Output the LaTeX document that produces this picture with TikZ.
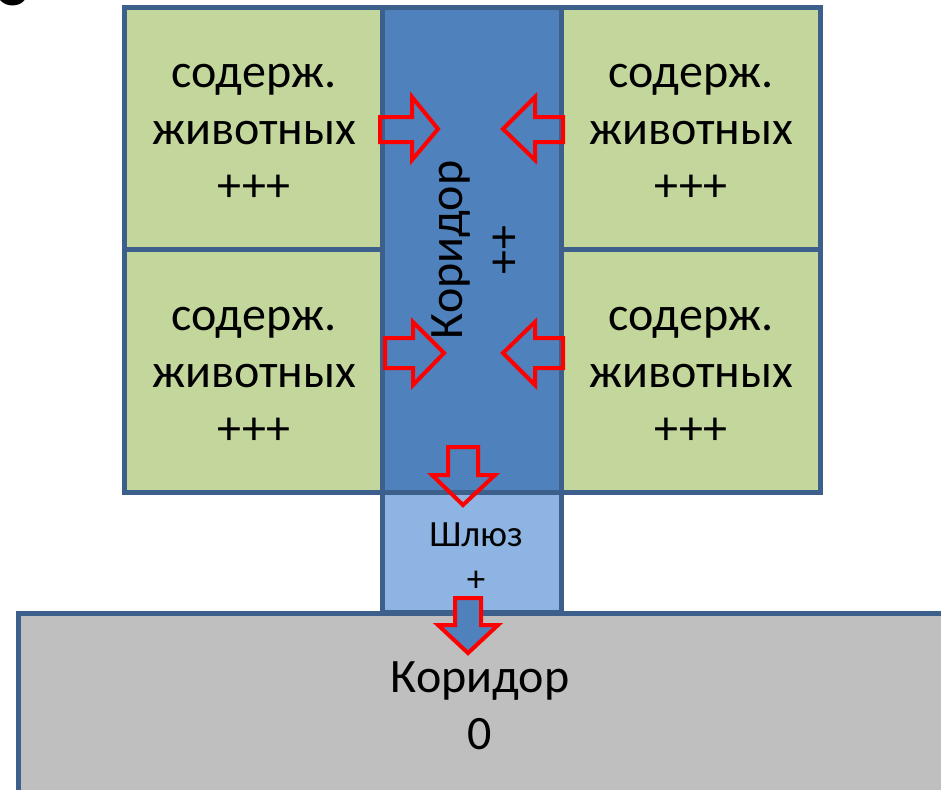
\documentclass[tikz,border=0pt]{standalone}
\usepackage{fontspec}
\setmainfont{Carlito}
\definecolor{pen}{HTML}{3D5F8C}
\definecolor{roomgreen}{HTML}{C3D69B}
\definecolor{hallblue}{HTML}{4F81BD}
\definecolor{lockblue}{HTML}{8EB4E3}
\definecolor{hallgrey}{HTML}{BFBFBF}
\definecolor{flowred}{HTML}{FF0000}
\tikzset{
  room/.style={draw=pen, line width=5pt, inner sep=0pt, outer sep=0pt},
  bigtext/.style={font=\fontsize{48}{57}\selectfont, align=center, text=black},
  smalltext/.style={font=\fontsize{37}{45}\selectfont, align=center, text=black},
  flow/.style={draw=flowred, line width=4pt, line join=miter},
}
\begin{document}
\begin{tikzpicture}[x=1pt,y=-1pt]
\useasboundingbox (0,0) rectangle (941,789);
\clip (0,0) rectangle (941,789);
% heading fragment cut by the top edge
\node[font=\fontsize{60}{60}\selectfont\bfseries, anchor=base east, inner sep=0pt] (head) at (26,6) {C};
% lower corridor (runs past the right and bottom edges)
\node[room, fill=hallgrey, anchor=north west, minimum width=960, minimum height=200] (lower) at (18,613) {};
% lock
\node[room, fill=lockblue, anchor=north west, minimum width=179, minimum height=120] (lock) at (382,492) {};
% central corridor
\node[room, fill=hallblue, anchor=north west, minimum width=179, minimum height=484] (hall) at (382,8) {};
% animal rooms
\node[room, fill=roomgreen, anchor=north west, minimum width=258, minimum height=241] (r1) at (124,8) {};
\node[room, fill=roomgreen, anchor=north west, minimum width=258, minimum height=243] (r2) at (124,249) {};
\node[room, fill=roomgreen, anchor=north west, minimum width=259, minimum height=241] (r3) at (561,8) {};
\node[room, fill=roomgreen, anchor=north west, minimum width=259, minimum height=243] (r4) at (561,249) {};
% labels
\node[bigtext] (t1) at (254,133) {содерж.\\животных\\+++};
\node[bigtext] (t2) at (254,376) {содерж.\\животных\\+++};
\node[bigtext] (t3) at (691,133) {содерж.\\животных\\+++};
\node[bigtext] (t4) at (691,376) {содерж.\\животных\\+++};
\node[bigtext, rotate=90] (th) at (476,250) {Коридор\\++};
\node[smalltext] (tl) at (476,557) {Шлюз\\+};
\node[bigtext] (tb) at (480,706) {Коридор\\0};
% flow arrows
\draw[flow] (380,117) -- (412,117) -- (412,97) -- (438,129) -- (412,160) -- (412,142) -- (380,142) -- cycle;
\draw[flow] (563,117) -- (535,117) -- (535,97) -- (503,129) -- (535,160) -- (535,142) -- (563,142) -- cycle;
\draw[flow] (385,338) -- (413,338) -- (413,322) -- (444,353) -- (413,385) -- (413,368) -- (385,368) -- cycle;
\draw[flow] (563,338) -- (535,338) -- (535,322) -- (503,353) -- (535,385) -- (535,368) -- (563,368) -- cycle;
\draw[flow] (448,447) -- (478,447) -- (478,475) -- (495,475) -- (463,505) -- (432,475) -- (448,475) -- cycle;
\draw[flow, fill=hallblue] (455,598) -- (481,598) -- (481,625) -- (498,625) -- (468,653) -- (438,625) -- (455,625) -- cycle;
\end{tikzpicture}
\end{document}
